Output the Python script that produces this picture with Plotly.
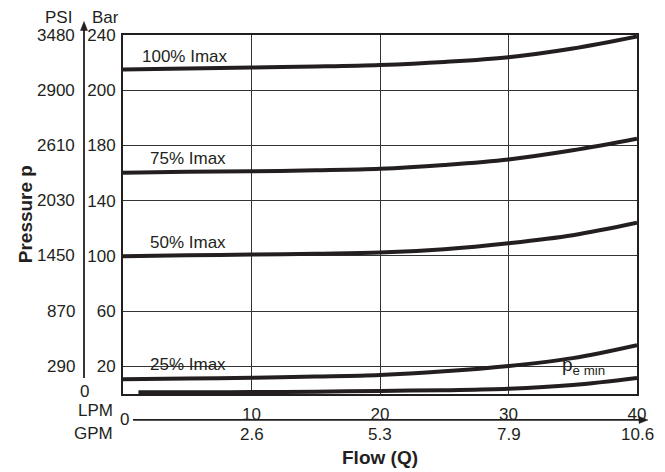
import plotly.graph_objects as go

# ---- data (pressure in chart units, flow in LPM) ----
flow = [0, 5, 10, 15, 20, 25, 30, 35, 40]
p_100 = [235.0, 235.8, 236.5, 237.2, 238.3, 240.5, 243.9, 250.2, 258.9]
p_75 = [160.3, 160.9, 161.3, 162.0, 163.1, 165.9, 169.9, 176.5, 184.9]
p_50 = [99.8, 100.4, 101.0, 101.6, 102.4, 104.9, 109.2, 115.0, 124.0]
p_25 = [10.6, 11.2, 11.8, 12.6, 13.7, 16.4, 20.3, 26.0, 35.4]
flow_pe = [1.2, 5, 10, 15, 20, 25, 30, 35, 40]
p_e_min = [1.2, 1.3, 1.4, 1.7, 2.2, 2.8, 3.8, 6.5, 11.6]

curve_labels = ["100% Imax", "75% Imax", "50% Imax", "25% Imax"]
label_pos = [(4.8, 244.4), (5.05, 170.7), (5.05, 109.9), (5.05, 21.7)]

y_tickvals = [20, 60, 100, 140, 180, 220, 260]
bar_labels = ["20", "60", "100", "140", "180", "200", "240"]
psi_labels = ["290", "870", "1450", "2030", "2610", "2900", "3480"]

lpm_ticks = [10, 20, 30, 40]
gpm_labels = ["2.6", "5.3", "7.9", "10.6"]

INK = "#231f20"
GRID = "#333333"
FONT = "Liberation Sans, Arial, sans-serif"

# plot-area geometry (pixels) used to place decorations in paper coords
L, R, T, B = 123, 637, 34.5, 394
def px(xp):
    return (xp - L) / (R - L)
def py(yp):
    return (B - yp) / (B - T)

fig = go.Figure()
for ys in [p_100, p_75, p_50, p_25]:
    fig.add_trace(go.Scatter(x=flow, y=ys, mode="lines",
                             line=dict(color=INK, width=4, shape="spline", smoothing=1.0),
                             showlegend=False, hoverinfo="skip"))
fig.add_trace(go.Scatter(x=flow_pe, y=p_e_min, mode="lines",
                         line=dict(color=INK, width=4, shape="spline", smoothing=1.0),
                         showlegend=False, hoverinfo="skip"))

ann = []
for txt, (lx, ly) in zip(curve_labels, label_pos):
    ann.append(dict(x=lx, y=ly, xref="x", yref="y", text=txt, showarrow=False,
                    font=dict(size=17, color=INK),
                    xanchor="center", yanchor="middle", borderpad=1))
ann.append(dict(x=35.8, y=20.5, xref="x", yref="y",
                text="p<sub>e min</sub>", showarrow=False,
                font=dict(size=19, color=INK),
                xanchor="center", yanchor="middle", borderpad=0))

for v, t in zip(y_tickvals, psi_labels):
    ann.append(dict(x=px(77), y=v, xref="paper", yref="y", text=t,
                    showarrow=False, font=dict(size=17, color=INK),
                    xanchor="right", yanchor="middle"))
ann.append(dict(x=px(84), y=py(391), xref="paper", yref="paper", text="0",
                showarrow=False, font=dict(size=17, color=INK),
                xanchor="center", yanchor="middle", borderpad=0))
ann.append(dict(x=px(58), y=py(17), xref="paper", yref="paper", text="PSI",
                showarrow=False, font=dict(size=17, color=INK),
                xanchor="center", yanchor="middle"))
ann.append(dict(x=px(105), y=py(17), xref="paper", yref="paper", text="Bar",
                showarrow=False, font=dict(size=17, color=INK),
                xanchor="center", yanchor="middle"))
ann.append(dict(x=px(124), y=py(420), xref="paper", yref="paper", text="0",
                showarrow=False, font=dict(size=17, color=INK),
                xanchor="center", yanchor="middle"))
ann.append(dict(x=px(114), y=py(411), xref="paper", yref="paper", text="LPM",
                showarrow=False, font=dict(size=17, color=INK),
                xanchor="right", yanchor="middle", borderpad=0))
ann.append(dict(x=px(114), y=py(434), xref="paper", yref="paper", text="GPM",
                showarrow=False, font=dict(size=17, color=INK),
                xanchor="right", yanchor="middle", borderpad=0))
for v, t in zip(lpm_ticks, gpm_labels):
    ann.append(dict(x=v, y=py(435), xref="x", yref="paper", text=t,
                    showarrow=False, font=dict(size=17, color=INK),
                    xanchor="center", yanchor="middle"))
ann.append(dict(x=0.5, y=py(458), xref="paper", yref="paper", text="<b>Flow (Q)</b>",
                showarrow=False, font=dict(size=19, color=INK),
                xanchor="center", yanchor="middle"))
ann.append(dict(x=px(25), y=py(214), xref="paper", yref="paper", text="<b>Pressure p</b>",
                showarrow=False, font=dict(size=19, color=INK), textangle=-90,
                xanchor="center", yanchor="middle"))

shapes = [
    # white gaps in the 20-bar gridline behind the labels (between grid and traces)
    dict(type="rect", xref="paper", yref="paper", layer="between",
         x0=px(134), x1=px(237), y0=py(372), y1=py(356),
         fillcolor="white", line=dict(width=0)),
    dict(type="rect", xref="paper", yref="paper", layer="between",
         x0=px(552), x1=px(613), y0=py(372), y1=py(360),
         fillcolor="white", line=dict(width=0)),
    # vertical pressure axis with arrowhead
    dict(type="line", xref="paper", yref="paper", x0=px(84), x1=px(84),
         y0=py(378), y1=py(28), line=dict(color=INK, width=1.8)),
    dict(type="path", xref="paper", yref="paper",
         path=f"M {px(84)} {py(21)} L {px(80.5)} {py(30)} L {px(87.5)} {py(30)} Z",
         fillcolor=INK, line=dict(color=INK, width=0.5)),
    # flow axis with arrowhead
    dict(type="line", xref="paper", yref="paper", x0=px(133), x1=px(641),
         y0=py(420), y1=py(420), line=dict(color=INK, width=1.8)),
    dict(type="path", xref="paper", yref="paper",
         path=f"M {px(648)} {py(420)} L {px(639)} {py(416.5)} L {px(639)} {py(423.5)} Z",
         fillcolor=INK, line=dict(color=INK, width=0.5)),
]

fig.update_layout(
    width=665, height=472,
    margin=dict(l=L, r=665 - R, t=T, b=472 - B),
    paper_bgcolor="white", plot_bgcolor="white",
    font=dict(family=FONT, size=17, color=INK),
    annotations=ann, shapes=shapes,
    xaxis=dict(range=[0, 40], tickvals=lpm_ticks, ticktext=[str(v) for v in lpm_ticks],
               showgrid=True, gridcolor=GRID, gridwidth=1.3,
               showline=True, linecolor=INK, linewidth=2, mirror=True,
               ticks="", zeroline=False, ticklabelstandoff=4,
               tickfont=dict(size=17, color=INK)),
    yaxis=dict(range=[0, 260], tickvals=y_tickvals, ticktext=bar_labels,
               showgrid=True, gridcolor=GRID, gridwidth=1.3,
               showline=True, linecolor=INK, linewidth=2, mirror=True,
               ticks="", zeroline=False, ticklabelstandoff=2,
               tickfont=dict(size=17, color=INK)),
)

fig.write_html("out.html", config={"displayModeBar": False},
               post_script="document.body.style.margin='0';")
